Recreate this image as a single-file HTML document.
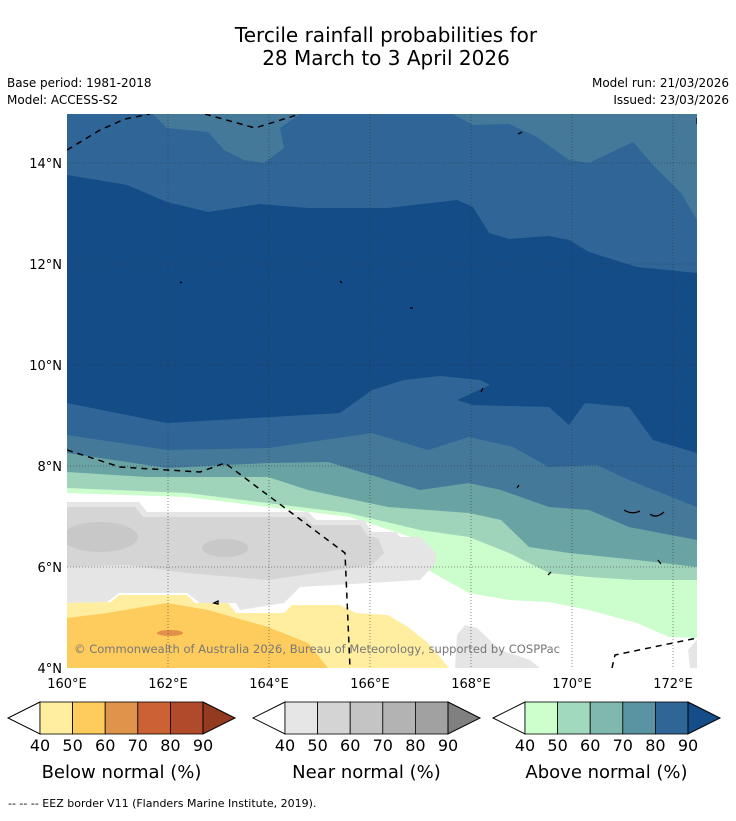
<!DOCTYPE html>
<html><head><meta charset="utf-8"><style>
body{margin:0;background:#fff;width:736px;height:816px;overflow:hidden;font-family:"Liberation Sans","DejaVu Sans",sans-serif}
</style></head><body>
<svg width="736" height="816" viewBox="0 0 736 816" xmlns="http://www.w3.org/2000/svg" font-family="DejaVu Sans, Liberation Sans, sans-serif">
<rect width="736" height="816" fill="#fff"/>
<text x="386" y="42" font-size="20" text-anchor="middle">Tercile rainfall probabilities for</text>
<text x="386" y="65" font-size="20" text-anchor="middle">28 March to 3 April 2026</text>
<text x="7" y="87" font-size="12">Base period: 1981-2018</text>
<text x="7" y="104" font-size="12">Model: ACCESS-S2</text>
<text x="729" y="87" font-size="12" text-anchor="end">Model run: 21/03/2026</text>
<text x="729" y="104" font-size="12" text-anchor="end">Issued: 23/03/2026</text>
<defs><clipPath id="mc"><rect x="67" y="114" width="630" height="554"/></clipPath></defs>
<g clip-path="url(#mc)">
<rect x="67" y="114" width="630" height="554" fill="#134c86"/>
<polygon fill="#2f6597" points="67,114 697,114 697,273 637,267 589,252 569,240 549,236 509,239 489,233 473,207 457,200 388,208 308,208 260,204 208,212 167,202 127,185 67,175"/>
<polygon fill="#44799a" points="153,114 167,128 208,132 224,150 244,160 264,163 284,148 280,128 300,114"/>
<polygon fill="#44799a" points="453,114 473,125 509,124 537,137 569,160 589,163 633,142 653,165 681,193 697,220 697,114"/>
<polygon fill="#2f6597" points="67,403 167,423 340,413 372,390 404,380 440,376 480,380 490,385 457,400 473,405 549,407 569,425 585,403 629,407 653,440 697,453 697,668 67,668"/>
<polygon fill="#44799a" points="67,435 167,450 268,448 372,433 428,450 469,437 513,447 549,467 597,465 629,480 697,507 697,668 67,668"/>
<polygon fill="#6aa3a3" points="67,453 167,468 268,463 328,462 420,490 469,483 501,490 549,507 589,510 629,527 697,540 697,668 67,668"/>
<polygon fill="#9fd4bb" points="67,472 147,477 268,477 308,490 388,507 469,513 501,520 529,547 569,553 637,560 697,567 697,668 67,668"/>
<polygon fill="#ccfdcc" points="67,488 187,493 348,513 420,530 469,537 509,553 549,573 589,577 637,580 697,580 697,668 67,668"/>
<polygon fill="#ffffff" points="67,493 187,497 350,517 420,540 428,570 469,593 509,600 549,602 589,610 637,623 669,637 697,638 697,668 67,668"/>
<polygon fill="#e5e5e5" points="67,502 139,502 147,512 308,512 316,520 364,520 372,532 396,532 400,537 420,537 436,553 436,563 420,580 300,587 284,603 240,610 236,603 200,603 187,593 119,593 107,602 67,603"/>
<polygon fill="#d5d5d5" points="67,507 135,507 143,517 305,517 312,525 360,525 368,536 378,538 384,553 372,565 268,580 187,573 127,565 67,567"/>
<ellipse cx="100" cy="537" rx="38" ry="15" fill="#c8c8c8"/>
<ellipse cx="225" cy="548" rx="23" ry="9" fill="#c8c8c8"/>
<polygon fill="#ffeda0" points="67,603 111,602 119,595 187,595 195,603 228,603 236,613 284,613 292,605 340,605 356,613 388,615 408,627 428,643 449,668 67,668"/>
<polygon fill="#fecc5c" points="67,618 107,613 167,603 208,610 268,627 308,643 328,668 67,668"/>
<ellipse cx="170" cy="633" rx="13" ry="3" fill="#e0904a"/>
<polygon fill="#e5e5e5" points="457,635 465,625 477,628 500,650 530,660 540,668 455,668"/>
<polygon fill="#e5e5e5" points="697,640 688,650 690,668 697,668"/>
<g stroke="#333" stroke-width="0.8" stroke-dasharray="1,2" opacity="0.7">
<line x1="168" y1="114" x2="168" y2="668"/><line x1="269" y1="114" x2="269" y2="668"/><line x1="370" y1="114" x2="370" y2="668"/><line x1="471" y1="114" x2="471" y2="668"/><line x1="572" y1="114" x2="572" y2="668"/><line x1="673" y1="114" x2="673" y2="668"/>
<line x1="67" y1="163" x2="697" y2="163"/><line x1="67" y1="264" x2="697" y2="264"/><line x1="67" y1="365" x2="697" y2="365"/><line x1="67" y1="466" x2="697" y2="466"/><line x1="67" y1="567" x2="697" y2="567"/>
</g>
<g fill="none" stroke="#000" stroke-width="1.5" stroke-dasharray="6,5">
<polyline points="67,150 100,130 125,119 150,114"/>
<polyline points="205,114 255,128 300,114"/>
<polyline points="67,450 120,467 200,472 225,463 345,553 350,668"/>
<polyline points="612,668 615,655 697,638"/>
</g>
<g fill="none" stroke="#000" stroke-width="1.3">
<path d="M624,510 q8,5 16,1 M650,514 q6,5 14,-2 M518,134 l4,-2 M180,282 l2,1 M340,281 l2,2 M410,308 l3,0 M483,388 l-2,4 M517,488 l2,-3 M548,575 l3,-3 M658,560 l3,4 M214,603 l4,-2 l0,3 z M697,118 l0,6"/>
</g>
<text x="74" y="653" font-size="11.5" fill="#777" textLength="486">© Commonwealth of Australia 2026, Bureau of Meteorology, supported by COSPPac</text>
</g>
<g font-size="13">
<text x="62" y="168" text-anchor="end">14°N</text><text x="62" y="269" text-anchor="end">12°N</text><text x="62" y="370" text-anchor="end">10°N</text><text x="62" y="471" text-anchor="end">8°N</text><text x="62" y="572" text-anchor="end">6°N</text><text x="62" y="673" text-anchor="end">4°N</text>
</g>
<g font-size="13" text-anchor="middle">
<text x="67" y="688">160°E</text><text x="168" y="688">162°E</text><text x="269" y="688">164°E</text><text x="370" y="688">166°E</text><text x="471" y="688">168°E</text><text x="572" y="688">170°E</text><text x="673" y="688">172°E</text>
</g>
<g id="cbars"></g>
<text x="8" y="807" font-size="11">--  --  -- EEZ border V11 (Flanders Marine Institute, 2019).</text>
<script>
const ticks=["40","50","60","70","80","90"];
const titles=["Below normal (%)","Near normal (%)","Above normal (%)"];
const colors=[["#ffeda0","#fecc5c","#e0934a","#cc6234","#b04a2a","#943a20"],["#e6e6e6","#d4d4d4","#c4c4c4","#b3b3b3","#a1a1a1","#808080"],["#ccffcc","#a1d9bd","#80b8ad","#5a93a1","#2f6597","#144d87"]];
const starts=[40,285,525];
const NS="http://www.w3.org/2000/svg";
const g=document.getElementById('cbars');
for(let b=0;b<3;b++){
 const x0=starts[b],w=163,y0=702,y1=734,bw=w/5;
 const grp=document.createElementNS(NS,'g');
 
 
 const t1=document.createElementNS(NS,'polygon');
 t1.setAttribute('points',`${x0},${y0} ${x0-32},${(y0+y1)/2} ${x0},${y1}`);
 t1.setAttribute('fill','#fff');t1.setAttribute('stroke','#000');
 
 
 grp.appendChild(t1);
 for(let i=0;i<5;i++){
  const r=document.createElementNS(NS,'rect');
  r.setAttribute('x',x0+i*bw);r.setAttribute('y',y0);r.setAttribute('width',bw);r.setAttribute('height',y1-y0);
  r.setAttribute('fill',colors[b][i]);r.setAttribute('stroke','#000');r.setAttribute('stroke-width','0.8');
  
  
  grp.appendChild(r);
 }
 const t2=document.createElementNS(NS,'polygon');
 t2.setAttribute('points',`${x0+w},${y0} ${x0+w+32},${(y0+y1)/2} ${x0+w},${y1}`);
 t2.setAttribute('fill',colors[b][5]);t2.setAttribute('stroke','#000');
 
 
 grp.appendChild(t2);
 ticks.forEach((tk,i)=>{
  const t=document.createElementNS(NS,'text');
  t.setAttribute('x',x0+i*bw);t.setAttribute('y',751);t.setAttribute('font-size','16');t.setAttribute('text-anchor','middle');
  
  
  t.textContent=tk;grp.appendChild(t);
 });
 const tt=document.createElementNS(NS,'text');
 tt.setAttribute('x',x0+w/2);tt.setAttribute('y',778);tt.setAttribute('font-size','18');tt.setAttribute('text-anchor','middle');
 
 
 tt.textContent=titles[b];grp.appendChild(tt);
 g.appendChild(grp);
}
</script>
</svg>
</body></html>
